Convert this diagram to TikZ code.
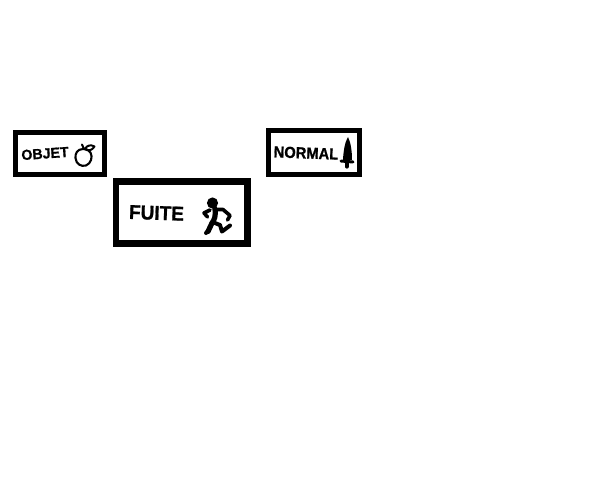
\documentclass[tikz,border=0pt]{standalone}
\usepackage{fontspec}
\setmainfont{Liberation Sans}
\newfontfamily\inkfont[BoldFeatures={FakeBold=1}]{Liberation Sans}
\tikzset{
  x=1pt,y=-1pt,
  panel/.style={draw=black,fill=white,line join=miter},
  inkline/.style={draw=black,line cap=round,line join=round},
  label/.style={inner sep=0pt,text=black}
}
\begin{document}
\begin{tikzpicture}
\useasboundingbox[fill=white] (0,0) rectangle (600,480);
% panels
\draw[panel,line width=5pt] (15.5,132.5) rectangle (104.5,174.5);
\draw[panel,line width=6.5pt] (116,181.5) rectangle (247.5,243.5);
\draw[panel,line width=5pt] (268.5,130.5) rectangle (359.5,174.5);
% labels
\node[label,font=\inkfont\bfseries\fontsize{14.5}{15}\selectfont,rotate=4,xscale=0.98] (objet) at (45,153.5) {OBJET};
\node[label,font=\inkfont\bfseries\fontsize{20}{21}\selectfont,rotate=-2,xscale=0.95] (fuite) at (156.5,213) {FUITE};
\node[label,font=\inkfont\bfseries\fontsize{16}{17}\selectfont,rotate=-2,xscale=0.92] (normal) at (306,153) {NORMAL};
% fruit
\draw[inkline,line width=2.1pt] (83,149) .. controls (77,149) and (75,154) .. (75.5,158) .. controls (76,164) and (81,167) .. (86,165.5) .. controls (91,163.5) and (93,157) .. (90.5,152.5) .. controls (89,150) and (86,148.5) .. (83,149);
\draw[inkline,line width=2pt] (82,144.5) -- (84,149) (85,149) .. controls (87,145) and (91,144.5) .. (94.5,146.5) .. controls (92,150.5) and (88,151.5) .. (85,149);
% sword
\fill[black] (348,137) .. controls (345,142) and (343.5,150) .. (343,160) -- (352,160) .. controls (352,150) and (350.5,142) .. (348,137) -- cycle;
\draw[inkline,line width=3pt] (341,161) -- (353,162);
\draw[inkline,line width=4.2pt] (346.8,161) -- (346.8,166.5);
% runner
\fill[black] (212.5,203) circle (5.6);
\draw[inkline,line width=3.6pt] (210,210) -- (204,213) -- (207.5,217);
\draw[inkline,line width=3.6pt] (215,209.5) -- (223,209.5) -- (230,215.5) -- (227.5,220);
\draw[inkline,line width=5.2pt] (215,209) .. controls (216,215) and (214.5,220) .. (212,223) -- (208,231.5);
\draw[inkline,line width=4pt] (206,233) -- (208,231);
\draw[inkline,line width=4pt] (212.5,222) -- (220,225) -- (222,231.5) -- (230,225.5);
\end{tikzpicture}
\end{document}
